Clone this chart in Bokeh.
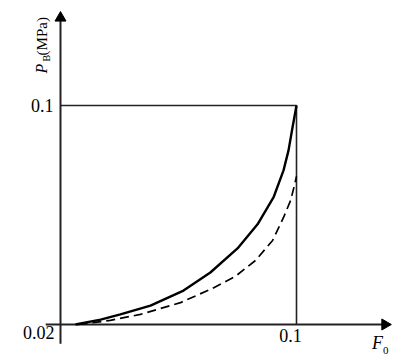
from bokeh.plotting import figure
from bokeh.models import Range1d
from bokeh.core.properties import value
from bokeh.embed import file_html
from bokeh.resources import INLINE

# ---- data ----
tick_values = [0.02, 0.1]
tick_labels = ["0.02", "0.1"]
axis_x_extent = [0.015, 0.1300]
axis_y_extent = [0.013, 0.1320]

solid_x = [0.0251, 0.0336, 0.0403, 0.0505, 0.0617, 0.0708, 0.0800, 0.0868,
           0.0922, 0.0956, 0.0973, 0.0986, 0.1000]
solid_y = [0.0200, 0.0218, 0.0237, 0.0269, 0.0324, 0.0390, 0.0478, 0.0566,
           0.0664, 0.0763, 0.0836, 0.0917, 0.1000]

dashed_x = [0.0261, 0.0369, 0.0471, 0.0607, 0.0715, 0.0793, 0.0861, 0.0919,
            0.0956, 0.0980, 0.0993, 0.1000]
dashed_y = [0.0200, 0.0215, 0.0237, 0.0280, 0.0332, 0.0376, 0.0434, 0.0507,
            0.0591, 0.0653, 0.0708, 0.0741]

ylabel_parts = ["P", "B", "(MPa)"]

FV = value("Liberation Serif")
lo, hi = tick_values

p = figure(width=408, height=358, output_backend="svg", toolbar_location=None,
           x_range=Range1d(-0.000339, 0.137966), y_range=Range1d(0.00758, 0.13836),
           min_border=0)
p.axis.visible = False
p.grid.visible = False
p.outline_line_color = None
p.background_fill_color = "white"

# y axis title P_B(MPa), rotated -- drawn first
p.text(x=[0.0163], y=[0.1117], text=[ylabel_parts[0]], text_font=FV, text_font_size="16px",
       text_font_style="italic", angle=90, angle_units="deg")
p.text(x=[0.0172], y=[0.1161], text=[ylabel_parts[1]], text_font=FV, text_font_size="10px",
       angle=90, angle_units="deg")
p.text(x=[0.0163], y=[0.1183], text=[ylabel_parts[2]], text_font=FV, text_font_size="15px",
       angle=90, angle_units="deg")

# axes (lines + triangular heads)
p.segment(x0=[axis_x_extent[0], lo], y0=[lo, axis_y_extent[0]],
          x1=[axis_x_extent[1], lo], y1=[lo, axis_y_extent[1]],
          line_width=2, line_color="#222222")
p.scatter(x=[lo], y=[axis_y_extent[1]], marker="triangle", size=11,
          fill_color="black", line_color="black")
p.scatter(x=[axis_x_extent[1]], y=[lo], marker="triangle", size=11, angle=-90,
          angle_units="deg", fill_color="black", line_color="black")

# rectangle lines at 0.1
p.line([lo, hi, hi], [hi, hi, lo], line_width=1.6, line_color="#222222")

# curves
p.line(solid_x, solid_y, line_width=2.4, line_color="black", line_join="round")
p.line(dashed_x, dashed_y, line_width=1.7, line_color="black", line_dash="9 5",
       line_join="round")

# tick labels
p.text(x=[lo], y=[lo], text=[tick_labels[0]], text_font=FV, text_font_size="18px",
       text_align="right", text_baseline="top", x_offset=-6, y_offset=1)
p.text(x=[lo], y=[hi], text=[tick_labels[1]], text_font=FV, text_font_size="18px",
       text_align="right", text_baseline="middle", x_offset=-7, y_offset=0)
p.text(x=[hi], y=[lo], text=[tick_labels[1]], text_font=FV, text_font_size="18px",
       text_align="center", text_baseline="top", x_offset=-6, y_offset=4)

# x axis title F_0
p.text(x=[axis_x_extent[1]], y=[lo], text=["F"], text_font=FV, text_font_size="18px",
       text_font_style="italic", text_align="left", text_baseline="alphabetic",
       x_offset=-13, y_offset=18)
p.text(x=[axis_x_extent[1]], y=[lo], text=["0"], text_font=FV, text_font_size="11px",
       text_align="left", text_baseline="alphabetic", x_offset=-2, y_offset=26)

open("out.html", "w").write(file_html(p, INLINE))
